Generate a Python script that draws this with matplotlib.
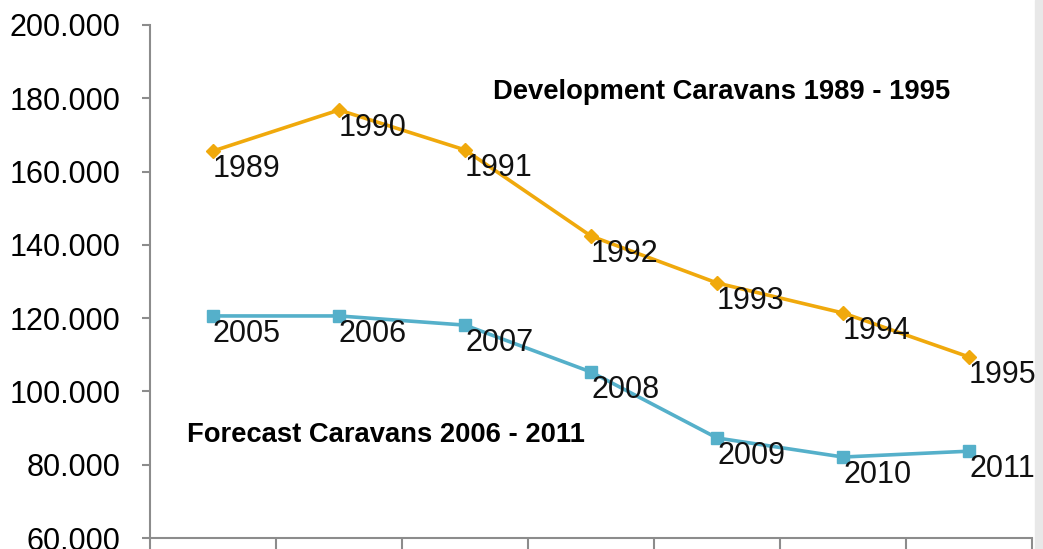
import matplotlib.pyplot as plt
from matplotlib.patches import Rectangle
from matplotlib.ticker import FuncFormatter

plt.rcParams['font.family'] = ['Liberation Sans', 'DejaVu Sans']

# data
dev_years = ['1989', '1990', '1991', '1992', '1993', '1994', '1995']
dev_values = [165600, 176800, 165900, 142400, 129600, 121400, 109400]

fc_years = ['2005', '2006', '2007', '2008', '2009', '2010', '2011']
fc_values = [120600, 120600, 118100, 105300, 87300, 82100, 83700]

orange = '#F0A90C'
blue = '#55B0CA'
grey = '#8C8C8C'

fig = plt.figure(figsize=(10.43, 5.49), dpi=100)
ax = fig.add_axes([0.1438, 0.02, 0.8457, 0.9345])

x = list(range(len(dev_values)))
ax.plot(x, dev_values, color=orange, lw=2.6, marker='D', ms=7, mec=orange, mfc=orange)
ax.plot(x, fc_values, color=blue, lw=2.6, marker='s', ms=8, mec=blue, mfc=blue)

# point labels, bottom right of each marker
for xi, v, lab in zip(x, dev_values, dev_years):
    ax.annotate(lab, (xi, v), xytext=(0, -2), textcoords='offset points',
                ha='left', va='top', fontsize=22, color='#111111')
for xi, v, lab in zip(x, fc_values, fc_years):
    ax.annotate(lab, (xi, v), xytext=(0, -2), textcoords='offset points',
                ha='left', va='top', fontsize=22, color='#111111')

ax.text(2.22, 181700, 'Development Caravans 1989 - 1995', fontsize=19.7,
        fontweight='bold', va='center', ha='left')
ax.text(-0.21, 88100, 'Forecast Caravans 2006 - 2011', fontsize=19.7,
        fontweight='bold', va='center', ha='left')

ax.set_xlim(-0.5, 6.5)
ax.set_ylim(60000, 200000)
ax.set_yticks(range(60000, 200001, 20000))
ax.yaxis.set_major_formatter(FuncFormatter(lambda v, p: f'{v:,.0f}'.replace(',', '.')))
ax.set_xticks([i - 0.5 for i in range(8)])
ax.set_xticklabels([])

for side in ['top', 'right']:
    ax.spines[side].set_visible(False)
for side in ['left', 'bottom']:
    ax.spines[side].set_color(grey)
    ax.spines[side].set_linewidth(1.5)
ax.tick_params(axis='y', length=6, width=1.5, color=grey, labelsize=22, pad=15)
ax.tick_params(axis='x', length=8, width=1.5, color=grey)

fig.patches.append(Rectangle((1035 / 1043, 0), 8 / 1043, 1, transform=fig.transFigure,
                             color='#E8E8E8', zorder=-1))

fig.savefig('out.png', dpi=100)
